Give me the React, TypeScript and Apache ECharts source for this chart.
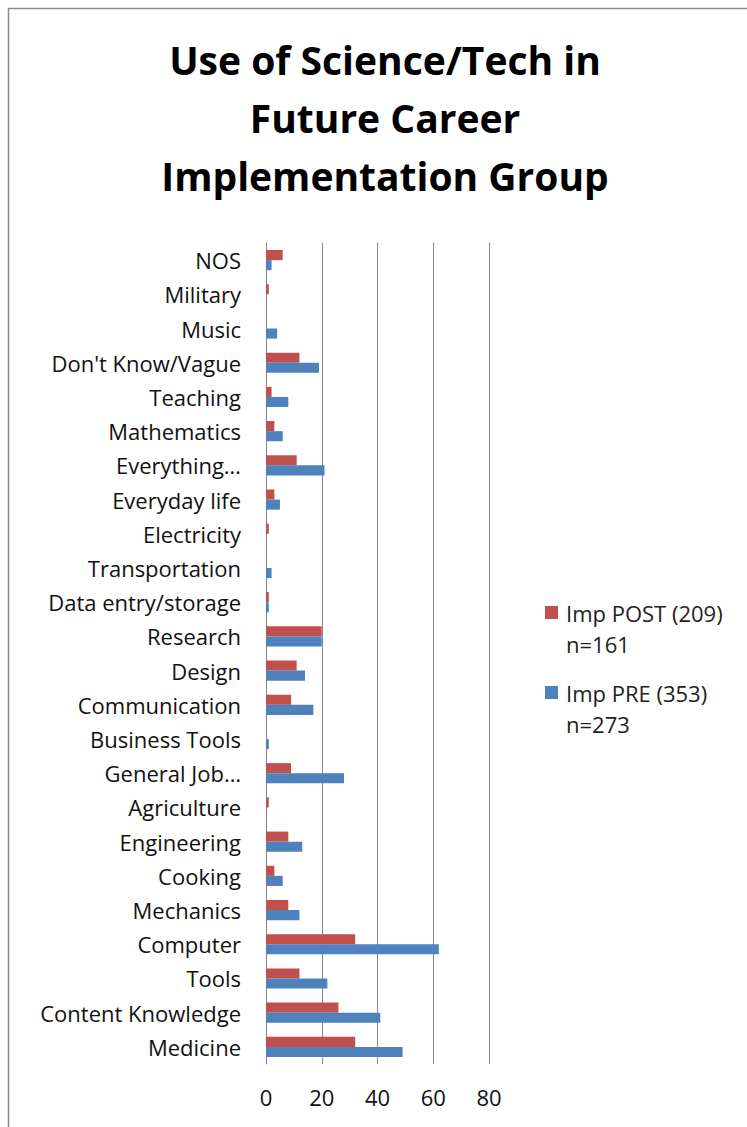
import React, { useEffect, useRef } from "react";
import * as echarts from "echarts";

const categories = [
  "Medicine", "Content Knowledge", "Tools", "Computer", "Mechanics", "Cooking",
  "Engineering", "Agriculture", "General Job…", "Business Tools", "Communication",
  "Design", "Research", "Data entry/storage", "Transportation", "Electricity",
  "Everyday life", "Everything…", "Mathematics", "Teaching", "Don't Know/Vague",
  "Music", "Military", "NOS",
];

const preValues = [49, 41, 22, 62, 12, 6, 13, 0, 28, 1, 17, 14, 20, 1, 2, 0, 5, 21, 6, 8, 19, 4, 0, 2];
const postValues = [32, 26, 12, 32, 8, 3, 8, 1, 9, 0, 9, 11, 20, 1, 0, 1, 3, 11, 3, 2, 12, 0, 1, 6];

const preName = "Imp PRE (353)\nn=273";
const postName = "Imp POST (209)\nn=161";
const xTicks = [0, 20, 40, 60, 80];
const titleText = "Use of Science/Tech in\nFuture Career\nImplementation Group";

const FONT = "'Open Sans', sans-serif";

export default function App() {
  const ref = useRef<HTMLDivElement>(null);
  useEffect(() => {
    if (!ref.current) return;
    const chart = echarts.init(ref.current, undefined, { renderer: "svg" });
    chart.setOption({
      animation: false,
      backgroundColor: "#ffffff",
      graphic: [
        {
          type: "rect",
          shape: { x: 8.5, y: 8.5, width: 800, height: 1200 },
          style: { fill: "none", stroke: "#8c8c8c", lineWidth: 1.5 },
          silent: true,
        },
      ],
      title: {
        text: titleText,
        left: 385,
        textAlign: "center",
        top: 30,
        padding: 0,
        textStyle: {
          fontFamily: FONT,
          fontWeight: "bold",
          fontSize: 39,
          lineHeight: 58,
          color: "#000000",
        },
      },
      legend: {
        orient: "vertical",
        left: 545,
        top: 597,
        padding: 0,
        data: [postName, preName],
        itemWidth: 13,
        itemHeight: 44,
        itemGap: 18,
        icon: "path://M0,0L13,0L13,13L0,13Z M0,44L13,44",
        textStyle: {
          fontFamily: FONT,
          fontSize: 22,
          lineHeight: 31,
          color: "#222222",
          padding: [0, 0, 0, 3],
        },
      },
      grid: { left: 266, right: 258, top: 243, bottom: 63, containLabel: false },
      xAxis: {
        type: "value",
        min: 0,
        max: 80,
        interval: 20,
        axisLine: { show: false },
        axisTick: { show: false },
        splitLine: { show: true, lineStyle: { color: "#868686", width: 1 } },
        axisLabel: {
          fontFamily: FONT,
          fontSize: 22,
          color: "#111111",
          margin: 22,
          formatter: (v: number) => (xTicks.includes(v) ? String(v) : ""),
        },
      },
      yAxis: {
        type: "category",
        data: categories,
        axisLine: { show: true, lineStyle: { color: "#868686", width: 1 } },
        axisTick: { show: false },
        axisLabel: {
          fontFamily: FONT,
          fontSize: 22,
          color: "#111111",
          margin: 25,
        },
      },
      series: [
        {
          name: postName,
          type: "bar",
          data: postValues,
          barGap: "0%",
          barCategoryGap: "41%",
          itemStyle: { color: "#c0504d" },
        },
        {
          name: preName,
          type: "bar",
          data: preValues,
          barGap: "0%",
          barCategoryGap: "41%",
          itemStyle: { color: "#4f81bd" },
        },
      ],
    });
    return () => chart.dispose();
  }, []);
  return (
    <div
      ref={ref}
      style={{ position: "fixed", left: 0, top: 0, width: 747, height: 1127 }}
    />
  );
}
